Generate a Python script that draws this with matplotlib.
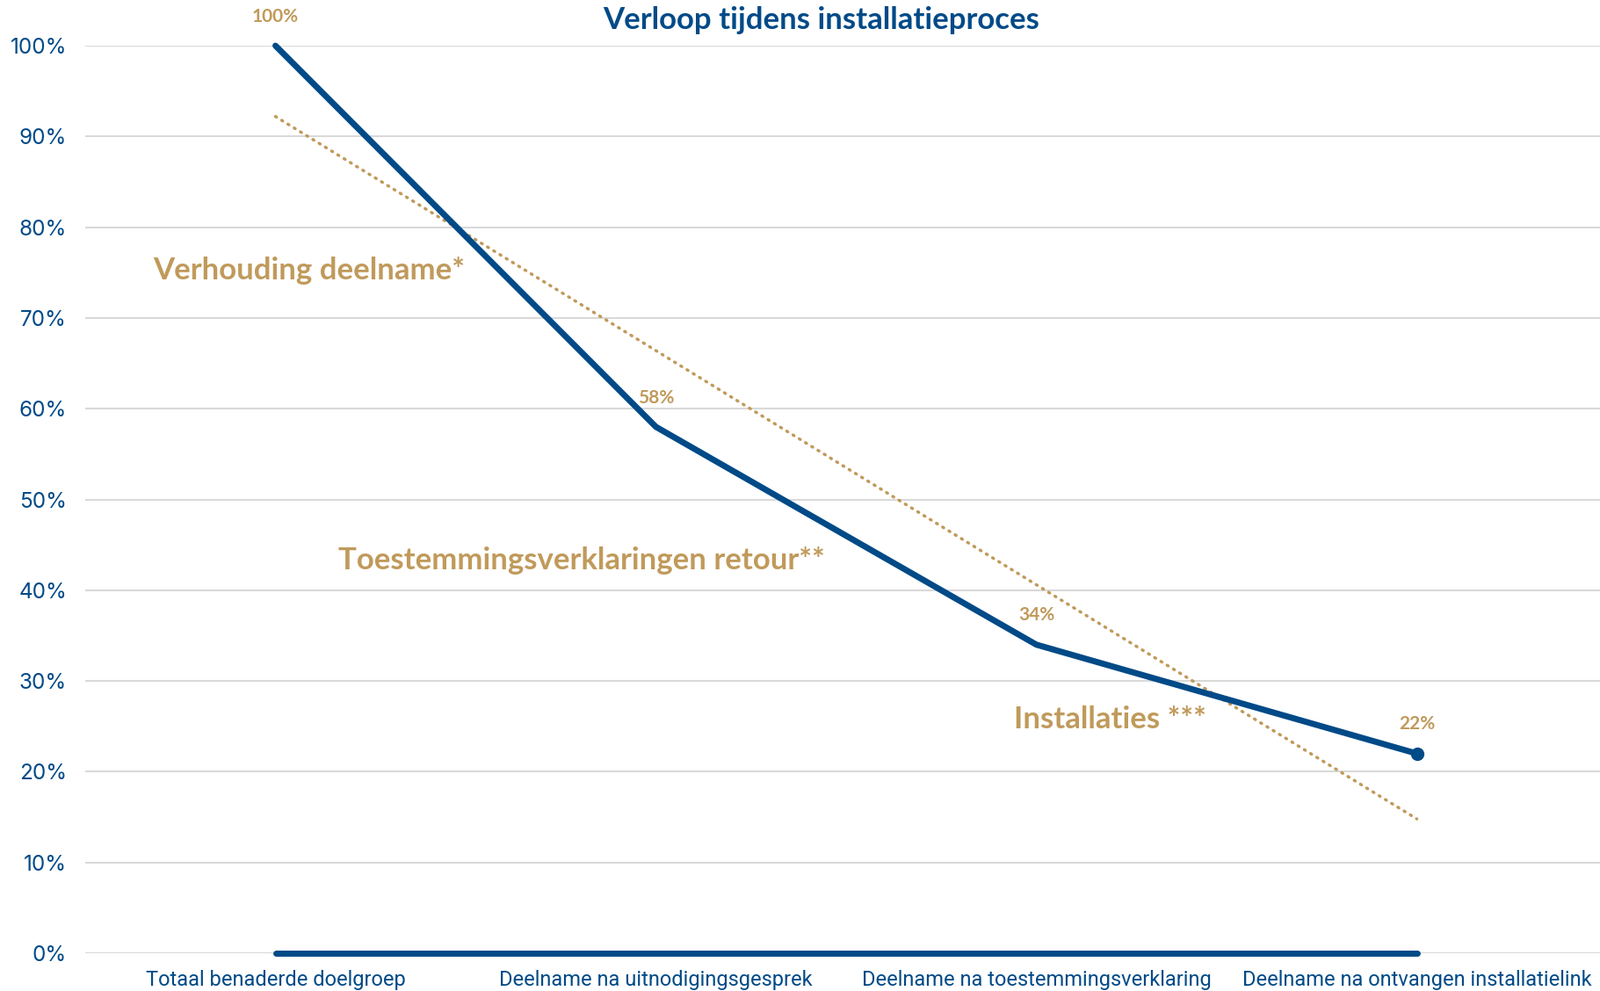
import matplotlib.pyplot as plt
import numpy as np

# data
stappen = ["Totaal benaderde doelgroep", "Deelname na uitnodigingsgesprek",
           "Deelname na toestemmingsverklaring", "Deelname na ontvangen installatielink"]
verloop = [1.00, 0.58, 0.34, 0.22]
nul_reeks = [0, 0, 0, 0]
labels = ["100%", "58%", "34%", "22%"]
blauw = "#004A87"
goud = "#C09A5B"

fig = plt.figure(figsize=(18.21, 11.28), dpi=100)
ax = fig.add_axes([97 / 1821, 1 - 1085 / 1128, 1732 / 1821, (1085 - 52) / 1128])

x = np.arange(len(stappen))
ax.plot(x, nul_reeks, color=blauw, linewidth=5, solid_capstyle="round", clip_on=False, zorder=3)
ax.plot(x, verloop, color=blauw, linewidth=5, solid_capstyle="round", clip_on=False, zorder=4)
ax.plot(x[-1], verloop[-1], "o", color=blauw, markersize=10, clip_on=False, zorder=5)

# lineaire trendlijn
a, b = np.polyfit(x, verloop, 1)
ax.plot(x, a * x + b, color=goud, linewidth=2.5, linestyle=(0, (0.4, 2.0)),
        dash_capstyle="round", zorder=2)

for xi, yi, lab in zip(x, verloop, labels):
    ax.annotate(lab, (xi, yi), xytext=(0, 24), textcoords="offset points",
                ha="center", va="center", color=goud, fontsize=15,
                fontweight="bold", family="Lato", annotation_clip=False)

ax.text(0.089, 0.752, "Verhouding deelname*", ha="center", va="center",
        color=goud, fontsize=25, fontweight="bold", family="Lato")
ax.text(0.805, 0.433, "Toestemmingsverklaringen retour**", ha="center", va="center",
        color=goud, fontsize=25, fontweight="bold", family="Lato")
ax.text(2.193, 0.2575, "Installaties ***", ha="center", va="center",
        color=goud, fontsize=25, fontweight="bold", family="Lato")

fig.text(935 / 1821, 1 - 23 / 1128, "Verloop tijdens installatieproces", ha="center", va="center",
         color=blauw, fontsize=25, fontweight="bold", family="Lato")

ax.set_xlim(-0.5, 3.5)
ax.set_ylim(0, 1)
ax.set_yticks(np.arange(0, 1.01, 0.1))
ax.set_yticklabels([f"{int(round(v * 100))}%" for v in np.arange(0, 1.01, 0.1)])
ax.set_xticks(x)
ax.set_xticklabels(stappen)
for t in ax.get_xticklabels():
    t.set_family(["Liberation Sans Narrow", "Roboto"])
    t.set_fontsize(17)
    t.set_color(blauw)
for t in ax.get_yticklabels():
    t.set_family("Inter")
    t.set_fontsize(17.5)
    t.set_color(blauw)
ax.tick_params(length=0)
ax.tick_params(axis="x", pad=14)
ax.tick_params(axis="y", pad=15)
ax.grid(axis="y", color="#D9D9D9", linewidth=1.5)
ax.set_axisbelow(True)
for s in ax.spines.values():
    s.set_visible(False)

fig.savefig("out.png", dpi=100)
